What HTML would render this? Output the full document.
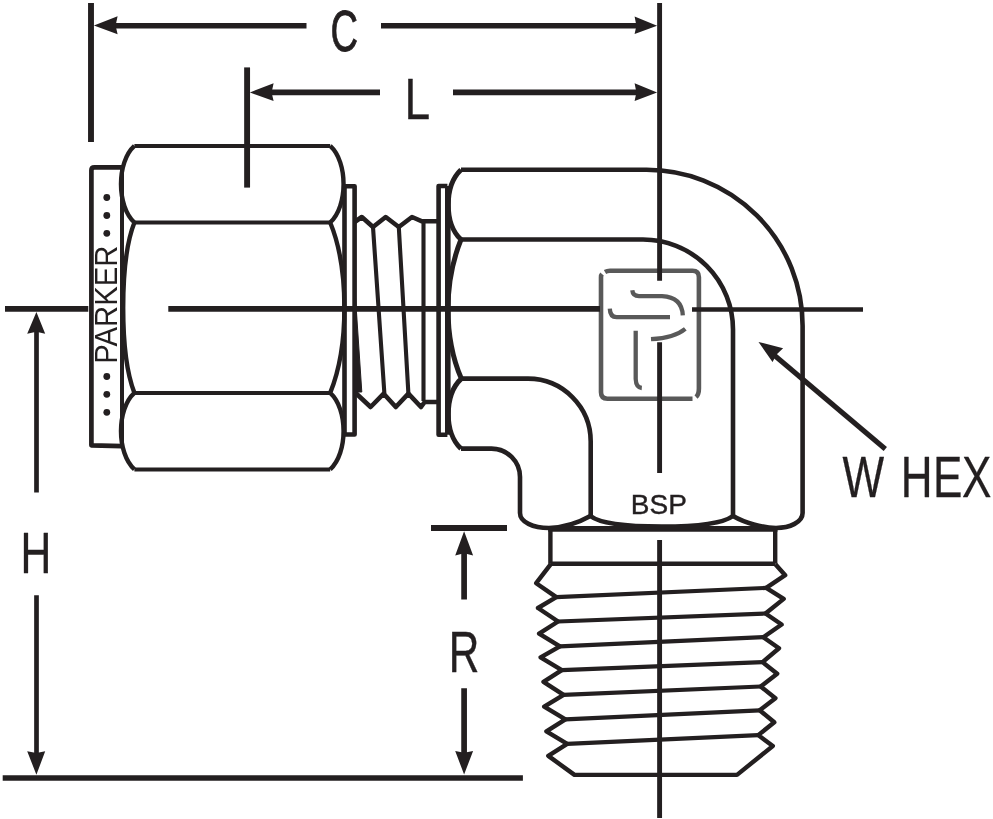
<!DOCTYPE html>
<html><head><meta charset="utf-8"><title>Parker fitting</title>
<style>
html,body{margin:0;padding:0;background:#fff;}
svg{display:block;}
text{font-family:"Liberation Sans",sans-serif;fill:#231f20;}
svg{will-change:transform;}
</style></head>
<body>
<svg width="993" height="819" viewBox="0 0 993 819">
<rect width="993" height="819" fill="#fff"/>
<!-- logo -->
<g fill="none" stroke="#595959" stroke-width="4.3" stroke-linecap="butt">
<path stroke-width="4.6" d="M605,272Q607,270.8 610,270.8H692.5Q698.9,270.8 698.9,277.2V388.5Q698.9,394.5 696,397M692.5,398.7H607.4Q601,398.7 601,392.3V277.2Q601,275.2 602,274"/>
<path d="M632.3,290.3Q632.8,296.1 639,296.1H662Q682,297 682.8,315.4"/>
<path d="M609.8,308.6Q610,317.1 616.6,317.1H670"/>
<path d="M685.3,328.8Q674,338 651,339.2"/>
<path d="M635.7,330.8V379Q636,387.5 641.8,388"/>
</g>
<g fill="none" stroke="#231f20" stroke-width="4.6" stroke-linejoin="round">
<!-- dimension extension lines -->
<path d="M91,2.9V142" stroke-width="5.9"/>
<path d="M247.1,67.4V187.6" stroke-width="5.9"/>
<!-- C dim -->
<path d="M114,25.7H306.5M381,25.7H638" stroke-width="5.6"/>
<!-- L dim -->
<path d="M269,92.4H380M453,92.4H638" stroke-width="5.6"/>
<!-- centerlines -->
<path d="M5,308.9H88.3M168.3,308.9H600" stroke-width="5.8"/>
<path d="M692,309.5H863" stroke-width="4.6"/>
<path d="M659.6,3V280.7M659.6,342.2V473M659.6,540V818" stroke-width="4.9"/>
<!-- H dim -->
<path d="M36.5,330V492.6M36.5,595.3V755" stroke-width="4.7"/>
<path d="M2.7,778H522.9" stroke-width="5.7"/>
<!-- R dim -->
<path d="M431,528H507" stroke-width="5.8"/>
<path d="M464.1,551V599.6M464.1,688.3V754" stroke-width="5.7"/>
<!-- W HEX leader -->
<path d="M774,355L885.3,449" stroke-width="5.1"/>
<!-- band -->
<path d="M122,167.3H94.4Q91.4,167.3 91.4,170.3V445.3L122,446.2" stroke-width="4.7"/>
<path d="M122,167.3V446.2" stroke-width="4"/>
<!-- nut -->
<g stroke-width="4">
<path d="M134.4,145.9H330.2M134.4,222.5H330.2M134.4,392.9H330.2M134.4,469.4H330.2"/>
<path stroke-width="4.4" d="M134.4,145.9C116.5,162 116.5,206 134.4,222.5C125.5,245 123.2,275 123.2,308C123.2,340 125.5,370 134.4,392.9C116.5,409 116.5,453 134.4,469.4"/>
<path stroke-width="4.4" d="M330.2,145.9C348,162 348,206 330.2,222.5C339.5,245 344.4,275 344.4,308C344.4,340 339.5,370 330.2,392.9C348,409 348,453 330.2,469.4"/>
</g>
<path d="M344.5,186.3V434.5H354.6V186.3Z"/>
<!-- right flange -->
<path d="M447.4,186H438.6V434.7H447.4"/>
<path d="M447.8,186V434.7" stroke-width="5.6"/>
<!-- thread between -->
<path d="M354.6,222L361.8,217L373,227L385.7,217L398.8,227L412,217L422,221.3H438" stroke-width="4.6"/>
<path d="M354.6,392L370.6,407L383.7,393.7L395.8,407L408.4,393.7L421,407L424.7,402H438" stroke-width="4.6"/>
<g stroke-width="4.1">
<path d="M373,227L384.4,393.7M398.8,227L408.4,393.7M423.5,221.3V401"/>
</g>
<path d="M355,290L361.8,392H354.6Z" fill="#231f20" stroke-width="1"/>
<!-- body -->
<path d="M461,169.8H646A156,156 0 0 1 802.6,326V513C802.6,522 790,528 776,528C762,527.5 745,523 733,516"/>
<path d="M461,239.5H643A90,90 0 0 1 733,329.5V516"/>
<path d="M461.3,378.6H528A62.8,62.8 0 0 1 590.7,441.4V516"/>
<path d="M461,448.6H491.5A28.5,28.5 0 0 1 520,477V513C520,522 533,528 549,528C563,527.5 578,523 590.4,516C598,522 615,526.5 661.7,526.5C708,526.5 725,522 733,516"/>
<path stroke-width="5" d="M461,169.8C444,186 444,224 461,239.5C452,262 448,285 448,309C448,333 452,357 461.3,378.6C444,395 444,433 461,448.6"/>
<path d="M548.3,528.8H777.4" stroke-width="5.8"/>
<!-- neck + male thread -->
<g transform="translate(-0.3,0.4)" stroke-width="4.4">
<path d="M550.7,528.6V563.3M775.5,528.6V563.3M550.7,563.3H775.5"/>
<path d="M551.1,563.8L536.5,582.8L556.6,596.7L538.3,607.6L558.4,621.1L539.4,633.2L560.2,646L540.9,656.9L562.1,669.7L543.8,681.4L563.9,694.5L544.5,706.2L565.7,719L546.7,731L567.5,743.4L548.6,755.5L574.8,774.5H737.3L773.1,745.6L758.5,734.7L774.6,721.9L760,709.9L775.7,697.8L761,686.1L777.5,673.3L762.9,661.7L779.3,647.8L763.6,636.8L781.9,624.1L765.8,613.1L784,598.5L766.5,587.5L785.5,574.8L775.7,563.8"/>
<path stroke-width="4.2" d="M556.6,596.7L766.5,587.5M558.4,621.1L765.8,613.1M560.2,646L763.6,636.8M562.1,669.7L762.9,661.7M563.9,694.5L761,686.1M565.7,719L760,709.9M567.5,743.4L758.5,734.7"/>
</g>
</g>
<!-- arrowheads -->
<g fill="#231f20" stroke="none">
<path d="M93.9,25.6L117.6,16.3L115.6,25.6L117.6,34.2Z"/>
<path d="M657.1,25.7L634.6,16.5L636.4,25.7L634.6,34Z"/>
<path d="M249.9,92.4L273.6,83.3L271.6,92.4L273.6,101.1Z"/>
<path d="M657.1,92.4L634.6,83.3L636.4,92.4L634.6,101.1Z"/>
<path d="M36.4,312L27.2,333.7L36.4,331.8L45.2,333.7Z"/>
<path d="M36.4,774.8L27.2,751.2L36.4,753L45.2,751.2Z"/>
<path d="M464.1,531.3L455.2,555.5L464.1,553.3L473.1,555.5Z"/>
<path d="M464.1,774.5L455.2,751L464.1,752.8L473.1,751Z"/>
<path d="M758.5,341.9L783.1,348.2L776.8,354.2L772.5,361.9Z"/>
<circle cx="106.8" cy="197.5" r="3.4"/><circle cx="106.8" cy="215.5" r="3.4"/><circle cx="106.8" cy="233.3" r="3.4"/>
<circle cx="106.8" cy="376.5" r="3.4"/><circle cx="106.8" cy="394.3" r="3.4"/><circle cx="106.8" cy="412.3" r="3.4"/>
</g>
<!-- labels -->
<g stroke="#231f20" stroke-linejoin="round">
<text transform="translate(330.6,51.4) scale(0.663,1)" font-size="57.5" x="0" y="0" stroke-width="0.9">C</text>
<text transform="translate(404.6,118.9) scale(0.796,1)" font-size="58" x="0" y="0" stroke-width="0.3">L</text>
<text transform="translate(20.4,572.6) scale(0.736,1)" font-size="58" x="0" y="0" stroke-width="0.4">H</text>
<text transform="translate(448.7,672) scale(0.73,1)" font-size="58" x="0" y="0" stroke-width="0.4">R</text>
<text transform="translate(842.4,497) scale(0.76,1)" font-size="58" x="0 55 76.8 119.3 157.5" y="0" stroke-width="0.3">W HEX</text>
</g>
<text x="630.8" y="513.7" font-size="28" stroke="#231f20" stroke-width="0.4">BSP</text>
<text transform="translate(117,363.7) rotate(-90) scale(0.913,1)" font-size="32" x="0" y="0">PARKER</text>
</svg>
</body></html>
